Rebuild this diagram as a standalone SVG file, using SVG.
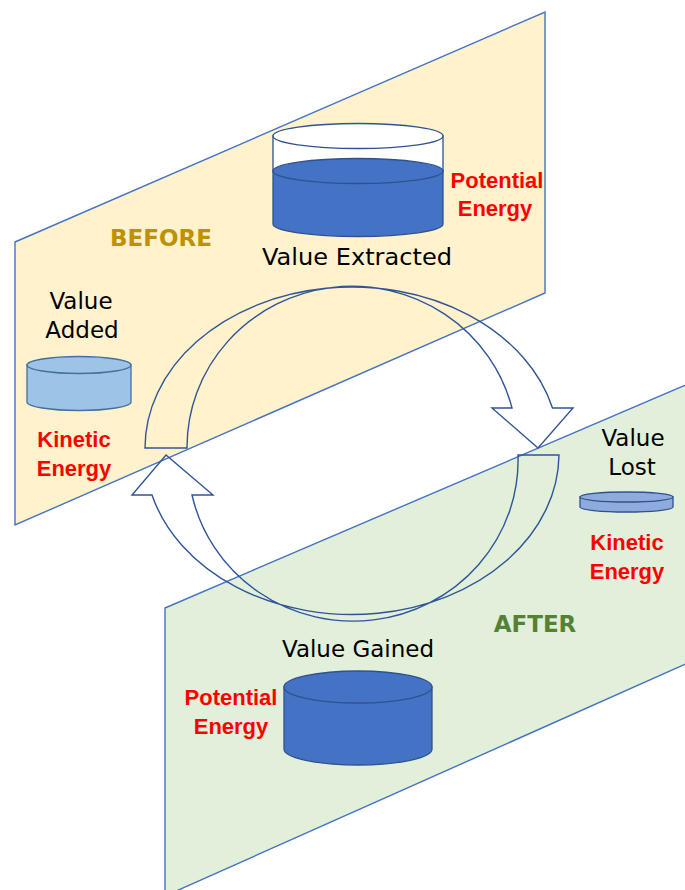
<svg xmlns="http://www.w3.org/2000/svg" width="685" height="890" viewBox="0 0 685 890">
<style>
.plane{stroke:#4472C4;stroke-width:1.4;stroke-linejoin:miter}
.arrow{fill:none;stroke:#2F5597;stroke-width:1.4;stroke-linejoin:miter}
.cyl{stroke:#2F528F;stroke-width:1.3}
.lbl{font-family:"DejaVu Sans",sans-serif;font-size:23px;fill:#000;text-anchor:middle}
.title{font-family:"DejaVu Sans",sans-serif;font-size:23px;font-weight:bold;text-anchor:middle}
.energy{font-family:"Liberation Sans",Arial,sans-serif;font-size:22px;font-weight:bold;fill:#FF0000;text-anchor:middle}
</style>
<rect width="685" height="890" fill="#FFFFFF"/>
<g id="plane-before">
<polygon class="plane" points="15,242 545,12 545,293 15,525" fill="#FFF2CC"/>
</g>
<g id="plane-after">
<polygon class="plane" points="165,608 690,383 690,662 165,896" fill="#E2EFDA"/>
</g>
<g id="connectors">
<path id="arrow-top" class="arrow" d="M145 448 A207 161 0 0 1 552.5 408 L573 408 L538 448 L492 408 L512 408 A165 161 0 0 0 187 448 Z"/>
<path id="arrow-bottom" class="arrow" d="M559 455 A207 161 0 0 1 152 495 L132 495 L166 455 L213 495 L192 495 A165 161 0 0 0 518 455 Z"/>
</g>
<g id="cyl-extracted">
<path class="cyl" d="M273 136 L273 171 A85 12.5 0 0 0 443 171 L443 136 Z" fill="#FFFFFF"/>
<path class="cyl" d="M273 171 L273 224 A85 12.5 0 0 0 443 224 L443 171 Z" fill="#4472C4"/>
<ellipse class="cyl" cx="358" cy="171" rx="85" ry="12.5" fill="#4472C4"/>
<ellipse class="cyl" cx="358" cy="136" rx="85" ry="12.5" fill="#FFFFFF"/>
</g>
<g id="cyl-added">
<path d="M27 365 L27 402 A52 8.5 0 0 0 131 402 L131 365 Z" fill="#9DC3E6" stroke="#41719C" stroke-width="1.3"/>
<ellipse cx="79" cy="365" rx="52" ry="8.5" fill="#9DC3E6" stroke="#41719C" stroke-width="1.3"/>
</g>
<g id="cyl-lost">
<path class="cyl" d="M580 497 L580 507 A46.5 5 0 0 0 673 507 L673 497 Z" fill="#8FAADC"/>
<ellipse class="cyl" cx="626.5" cy="497" rx="46.5" ry="5" fill="#8FAADC"/>
</g>
<g id="cyl-gained">
<path class="cyl" d="M284 687 L284 749 A74 16 0 0 0 432 749 L432 687 Z" fill="#4472C4"/>
<ellipse class="cyl" cx="358" cy="687" rx="74" ry="16" fill="#4472C4"/>
</g>
<g id="labels">
<text class="title" x="161" y="246" fill="#BF9000">BEFORE</text>
<text class="lbl" x="357" y="265" textLength="190" lengthAdjust="spacingAndGlyphs">Value Extracted</text>
<text class="energy" x="497" y="188">Potential</text>
<text class="energy" x="495" y="216">Energy</text>
<text class="lbl" x="81" y="309">Value</text>
<text class="lbl" x="82" y="338">Added</text>
<text class="energy" x="74" y="447">Kinetic</text>
<text class="energy" x="74" y="476">Energy</text>
<text class="lbl" x="633" y="446">Value</text>
<text class="lbl" x="632" y="475">Lost</text>
<text class="energy" x="627" y="550">Kinetic</text>
<text class="energy" x="627" y="579">Energy</text>
<text class="title" x="535" y="632" fill="#548235">AFTER</text>
<text class="lbl" x="358" y="657">Value Gained</text>
<text class="energy" x="231" y="705">Potential</text>
<text class="energy" x="231" y="734">Energy</text>
</g>
</svg>
